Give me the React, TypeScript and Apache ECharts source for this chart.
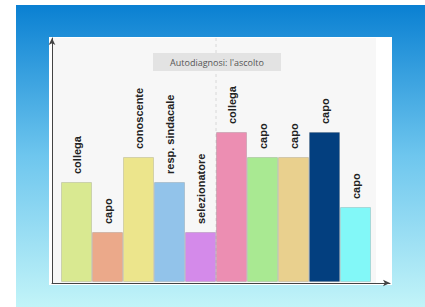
import React, { useEffect, useRef } from "react";
import * as echarts from "echarts";

const categories = ["collega", "capo", "conoscente", "resp. sindacale", "selezionatore", "collega", "capo", "capo", "capo", "capo"];
const values = [4, 2, 5, 4, 2, 6, 5, 5, 6, 3];
const barColors = ["#d9e991", "#eba98a", "#ece58c", "#92c3ea", "#d48aea", "#ec8eb2", "#a9e992", "#e9d08e", "#033f7f", "#82f8f8"];
const title = "Autodiagnosi: l'ascolto";

export default function App() {
  const ref = useRef<HTMLDivElement>(null);
  useEffect(() => {
    if (!ref.current) return;
    const chart = echarts.init(ref.current, undefined, { renderer: "svg" });
    chart.setOption({
      animation: false,
      backgroundColor: "#ffffff",
      graphic: [
        {
          type: "rect", z: -10, shape: { x: 16, y: 5, width: 409, height: 302 },
          style: {
            fill: new echarts.graphic.LinearGradient(0, 0, 0, 1, [
              { offset: 0, color: "#0a80d2" },
              { offset: 0.5, color: "#6ec6ee" },
              { offset: 1, color: "#c2f4f8" },
            ]),
          },
        },
        { type: "rect", z: -9, shape: { x: 49, y: 37, width: 343, height: 248 }, style: { fill: "#ffffff" } },
        { type: "rect", z: -8, shape: { x: 52, y: 38, width: 324, height: 245 }, style: { fill: "#f7f7f7" } },
        { type: "line", z: -7, shape: { x1: 216, y1: 38, x2: 216, y2: 282 }, style: { stroke: "#d8d8d8", lineWidth: 1, lineDash: [3, 3] } },
        { type: "rect", z: -6, shape: { x: 153, y: 53, width: 128, height: 18 }, style: { fill: "#e3e3e3" } },
        {
          type: "text", z: -5, x: 217, y: 62,
          style: { text: title, fill: "#555555", fontSize: 9, fontFamily: "Open Sans", align: "center", verticalAlign: "middle" },
        },
      ],
      grid: [
        { left: 61, width: 310, top: 32, bottom: 25 },
        { left: 52, right: 35, top: 38, bottom: 24 },
      ],
      xAxis: [
        { type: "category", gridIndex: 0, data: categories, show: false },
        {
          type: "value", gridIndex: 1, min: 0, max: 1,
          axisLine: { show: true, lineStyle: { color: "#444", width: 1 }, symbol: ["none", "arrow"], symbolSize: [5, 7] },
          axisTick: { show: false }, axisLabel: { show: false }, splitLine: { show: false },
        },
      ],
      yAxis: [
        { type: "value", gridIndex: 0, min: 0, max: 10, show: false },
        {
          type: "value", gridIndex: 1, min: 0, max: 1,
          axisLine: { show: true, lineStyle: { color: "#444", width: 1 }, symbol: ["none", "arrow"], symbolSize: [5, 7] },
          axisTick: { show: false }, axisLabel: { show: false }, splitLine: { show: false },
        },
      ],
      series: [
        {
          type: "bar",
          xAxisIndex: 0,
          yAxisIndex: 0,
          barCategoryGap: "0%",
          data: values.map((v, i) => ({
            value: v,
            itemStyle: { color: barColors[i], borderColor: "rgba(0,0,0,0.12)", borderWidth: 1 },
          })),
          label: {
            show: true,
            position: "top",
            rotate: 90,
            align: "left",
            verticalAlign: "middle",
            distance: 8,
            formatter: (p: any) => categories[p.dataIndex],
            fontSize: 11,
            fontWeight: "bold",
            fontFamily: "Liberation Sans",
            color: "#222222",
          },
        },
        { type: "scatter", xAxisIndex: 1, yAxisIndex: 1, data: [] },
      ],
    });
    return () => chart.dispose();
  }, []);
  return <div ref={ref} style={{ position: "fixed", left: 0, top: 0, width: 425, height: 307 }} />;
}
